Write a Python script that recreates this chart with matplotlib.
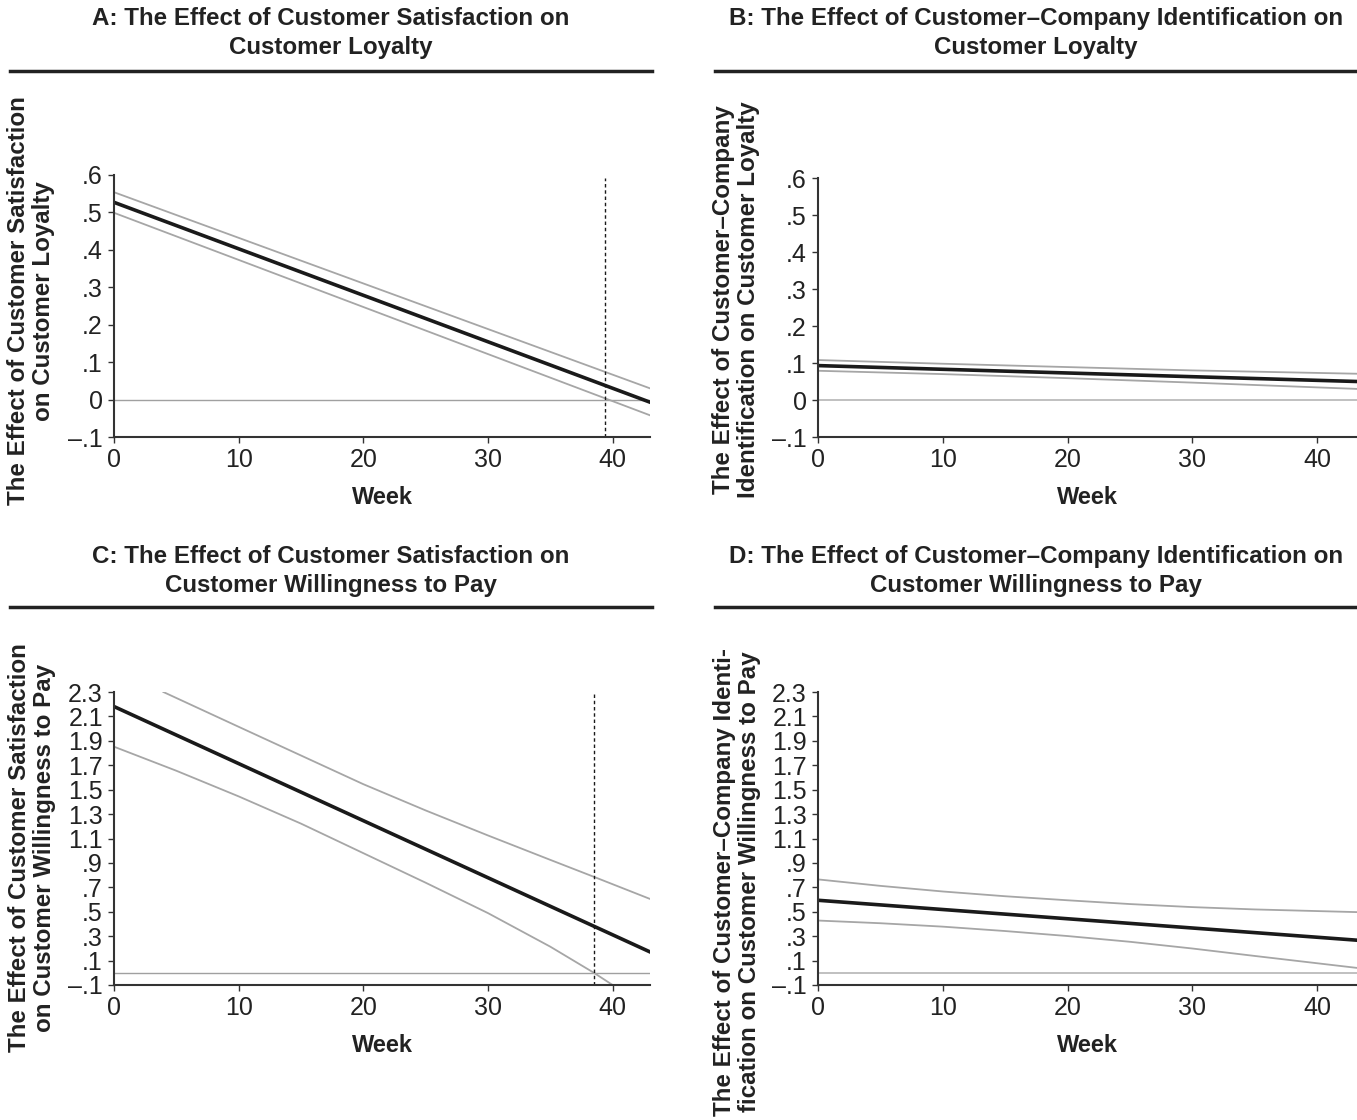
import matplotlib
matplotlib.use("Agg")
import matplotlib.pyplot as plt
from matplotlib.lines import Line2D

# ---------------- data ----------------
# Panel A: satisfaction -> loyalty
a_weeks = [0, 43]
a_est = [0.527, -0.007]
a_upper = [0.554, 0.030]
a_lower = [0.499, -0.042]
a_cut = 39.4

# Panel B: identification -> loyalty
b_weeks = [0, 10, 20, 30, 43.2]
b_est = [0.093, 0.083, 0.073, 0.063, 0.050]
b_upper = [0.108, 0.098, 0.089, 0.080, 0.071]
b_lower = [0.079, 0.070, 0.059, 0.047, 0.030]

# Panel C: satisfaction -> willingness to pay
c_weeks = [0, 43]
c_est = [2.181, 0.171]
c_up_weeks = [3.96, 10, 15, 20, 25, 30, 35, 38.4, 43]
c_upper = [2.30, 2.015, 1.78, 1.545, 1.33, 1.125, 0.925, 0.79, 0.605]
c_lo_weeks = [0, 5, 10, 15, 20, 25, 30, 35, 38.5, 40]
c_lower = [1.852, 1.655, 1.445, 1.222, 0.980, 0.738, 0.489, 0.214, 0.0, -0.10]
c_cut = 38.5

# Panel D: identification -> willingness to pay
d_weeks = [0, 43.2]
d_est = [0.594, 0.267]
d_band_weeks = [0, 5, 10, 15, 20, 25, 30, 35, 43.2]
d_upper = [0.765, 0.712, 0.666, 0.627, 0.594, 0.563, 0.538, 0.519, 0.497]
d_lower = [0.428, 0.406, 0.378, 0.342, 0.301, 0.254, 0.199, 0.138, 0.040]

x_ticks = [0, 10, 20, 30, 40]
loy_ticks = [0.6, 0.5, 0.4, 0.3, 0.2, 0.1, 0.0, -0.1]
loy_labels = [".6", ".5", ".4", ".3", ".2", ".1", "0", "\u2013.1"]
wtp_ticks = [2.3, 2.1, 1.9, 1.7, 1.5, 1.3, 1.1, 0.9, 0.7, 0.5, 0.3, 0.1, -0.1]
wtp_labels = ["2.3", "2.1", "1.9", "1.7", "1.5", "1.3", "1.1", ".9", ".7", ".5", ".3", ".1", "\u2013.1"]

titles = [
    "A: The Effect of Customer Satisfaction on\nCustomer Loyalty",
    "B: The Effect of Customer\u2013Company Identification on\nCustomer Loyalty",
    "C: The Effect of Customer Satisfaction on\nCustomer Willingness to Pay",
    "D: The Effect of Customer\u2013Company Identification on\nCustomer Willingness to Pay",
]
ylabels = [
    "The Effect of Customer Satisfaction\non Customer Loyalty",
    "The Effect of Customer\u2013Company\nIdentification on Customer Loyalty",
    "The Effect of Customer Satisfaction\non Customer Willingness to Pay",
    "The Effect of Customer\u2013Company Identi-\nfication on Customer Willingness to Pay",
]

# ---------------- layout ----------------
W, H = 1357, 1120
fig = plt.figure(figsize=(W / 100, H / 100), dpi=100)
fig.patch.set_facecolor("white")

NARROW = ["Liberation Sans Narrow", "Liberation Sans", "DejaVu Sans"]
WIDE = ["Liberation Sans", "DejaVu Sans"]


def axrect(l, r, t, b):
    return [l / W, 1 - b / H, (r - l) / W, (b - t) / H]


def hline_fig(x0, x1, y, lw=2.5):
    fig.add_artist(Line2D([x0 / W, x1 / W], [1 - y / H, 1 - y / H],
                          color="#222222", lw=lw, transform=fig.transFigure))


def style(ax, xlim, ylim, yt, yl):
    ax.set_xlim(*xlim)
    ax.set_ylim(*ylim)
    for s in ["top", "right"]:
        ax.spines[s].set_visible(False)
    for s in ["left", "bottom"]:
        ax.spines[s].set_color("#333333")
        ax.spines[s].set_linewidth(1.5)
    ax.set_xticks(x_ticks)
    ax.set_xticklabels([str(v) for v in x_ticks])
    ax.set_yticks(yt)
    ax.set_yticklabels(yl)
    ax.tick_params(direction="out", length=4, width=1, color="#333333", pad=4)
    for lab in ax.get_xticklabels() + ax.get_yticklabels():
        lab.set_family(NARROW)
        lab.set_fontsize(18)
        lab.set_color("#222222")
    ax.set_xlabel("Week", family=NARROW, fontweight="bold", fontsize=17,
                  color="#222222", labelpad=10)
    ax.patch.set_alpha(0)


GRAY = "#a6a6a6"
ZERO = "#a0a0a0"
BLACK = "#1a1a1a"
DASH = (0, (2.5, 2))

# Panel A
axA = fig.add_axes(axrect(114, 650, 175, 437))
style(axA, (0, 43), (-0.1, 0.6), loy_ticks, loy_labels)
axA.axhline(0, color=ZERO, lw=1)
axA.plot(a_weeks, a_upper, color=GRAY, lw=1.3)
axA.plot(a_weeks, a_lower, color=GRAY, lw=1.3)
axA.plot(a_weeks, a_est, color=BLACK, lw=2.6)
axA.axvline(a_cut, ymin=0, ymax=0.99, color=BLACK, lw=1, ls=DASH)

# Panel B
axB = fig.add_axes(axrect(818, 1357, 178, 437))
style(axB, (0, 43.2), (-0.1, 0.6), loy_ticks, loy_labels)
axB.axhline(0, color="#b5b5b5", lw=1.2)
axB.plot(b_weeks, b_upper, color=GRAY, lw=1.3)
axB.plot(b_weeks, b_lower, color=GRAY, lw=1.3)
axB.plot(b_weeks, b_est, color=BLACK, lw=2.6)

# Panel C
axC = fig.add_axes(axrect(114, 650, 692, 985))
style(axC, (0, 43), (-0.1, 2.3), wtp_ticks, wtp_labels)
axC.axhline(0, color=ZERO, lw=1)
axC.plot(c_up_weeks, c_upper, color=GRAY, lw=1.3)
axC.plot(c_lo_weeks, c_lower, color=GRAY, lw=1.3)
axC.plot(c_weeks, c_est, color=BLACK, lw=2.6)
axC.axvline(c_cut, ymin=0, ymax=1.0, color=BLACK, lw=1, ls=DASH)

# Panel D
axD = fig.add_axes(axrect(818, 1357, 692, 985))
style(axD, (0, 43.2), (-0.1, 2.3), wtp_ticks, wtp_labels)
axD.axhline(0, color="#b5b5b5", lw=1.2)
axD.plot(d_band_weeks, d_upper, color=GRAY, lw=1.3)
axD.plot(d_band_weeks, d_lower, color=GRAY, lw=1.3)
axD.plot(d_weeks, d_est, color=BLACK, lw=2.6)

# Titles and rules
title_pos = [(331, 33), (1036, 33), (331, 571), (1036, 571)]
for (x, y), t in zip(title_pos, titles):
    fig.text(x / W, 1 - y / H, t, ha="center", va="center", multialignment="center",
             family=NARROW, fontweight="bold", fontsize=17.4, color="#222222",
             linespacing=1.38)
hline_fig(10, 652, 71)
hline_fig(715, 1357, 71)
hline_fig(10, 652, 607)
hline_fig(715, 1357, 607)

# Y labels
ylab_pos = [(31, 301), (736, 300), (32, 848), (737, 882)]
for (x, y), t in zip(ylab_pos, ylabels):
    fig.text(x / W, 1 - y / H, t, ha="center", va="center", rotation=90,
             multialignment="center", family=WIDE, fontweight="bold", fontsize=17.4,
             color="#222222", linespacing=1.15)

fig.savefig("out.png", dpi=100)
